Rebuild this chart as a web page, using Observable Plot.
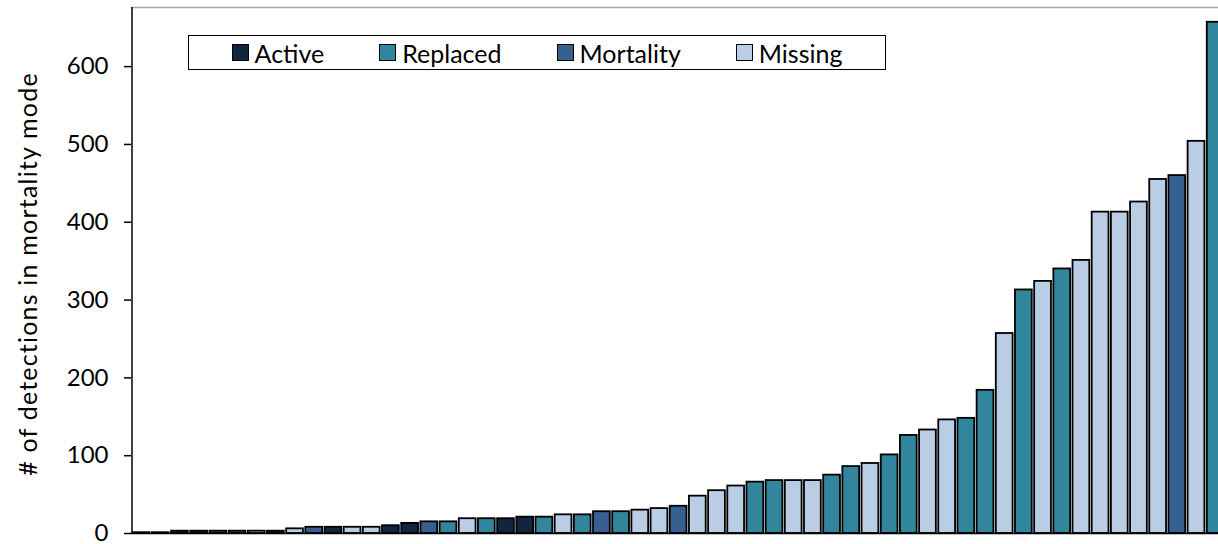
<!DOCTYPE html>
<html>
<head>
<meta charset="utf-8">
<script src="https://cdn.jsdelivr.net/npm/d3@7"></script>
<script src="https://cdn.jsdelivr.net/npm/@observablehq/plot@0.6"></script>
<style>
  html, body { margin: 0; padding: 0; background: #fff; }
  #wrap { position: relative; width: 1218px; height: 544px; overflow: hidden; font-family: Lato, "Open Sans", sans-serif; }
  #legend { position: absolute; left: 188px; top: 35px; width: 696px; height: 33px; border: 1.5px solid #000; background: #fff;
            display: flex; align-items: center; justify-content: center; gap: 55px; font-size: 25px; color: #000; }
  .item { display: flex; align-items: center; }
  .sw { width: 15px; height: 15px; border: 1.5px solid #000; margin-right: 6px; }
  #ytitle { position: absolute; left: 27px; top: 274px; transform: translate(-50%, -50%) rotate(-90deg); white-space: nowrap; font-size: 25px; letter-spacing: 1.2px; color: #000; }
</style>
</head>
<body>
<div id="wrap"></div>
<script>
const categories = ["Active", "Replaced", "Mortality", "Missing"];
const colors = ["#10253F", "#31859C", "#366092", "#B9CDE5"];
const yTicks = [0, 100, 200, 300, 400, 500, 600];
const yTitle = "# of detections in mortality mode";

// one value per transmitter, sorted ascending, with its status
const values = [1, 1, 3, 3, 3, 3, 3, 3, 6, 8,
                8, 8, 8, 10, 13, 15, 15, 19, 19, 19,
                21, 21, 24, 24, 28, 28, 30, 32, 35, 48,
                55, 61, 66, 68, 68, 68, 75, 86, 90, 101,
                126, 133, 146, 148, 184, 257, 313, 324, 340, 351,
                413, 413, 426, 455, 460, 504, 657];
const status = ["Active", "Active", "Active", "Active", "Mortality", "Mortality", "Missing", "Active", "Missing", "Mortality",
                "Active", "Missing", "Missing", "Active", "Active", "Mortality", "Replaced", "Missing", "Replaced", "Active",
                "Active", "Replaced", "Missing", "Replaced", "Mortality", "Replaced", "Missing", "Missing", "Mortality", "Missing",
                "Missing", "Missing", "Replaced", "Replaced", "Missing", "Missing", "Replaced", "Replaced", "Missing", "Replaced",
                "Replaced", "Missing", "Missing", "Replaced", "Replaced", "Missing", "Replaced", "Missing", "Replaced", "Missing",
                "Missing", "Missing", "Missing", "Missing", "Mortality", "Missing", "Replaced"];

const data = values.map((v, i) => ({i, value: v, status: status[i]}));
const n = data.length;
const step = 19.18;
const left = 131.5;

const chart = Plot.plot({
  width: 1218,
  height: 544,
  marginLeft: 131,
  marginTop: 7,
  marginBottom: 11,
  marginRight: 0,
  style: {fontFamily: "Lato, 'Open Sans', sans-serif", background: "#fff", overflow: "hidden"},
  x: {domain: [0, n], range: [left, left + n * step], axis: null},
  y: {domain: [0, 676], axis: null},
  color: {domain: categories, range: colors},
  marks: [
    Plot.ruleY([676], {stroke: "#a6a6a6", strokeWidth: 1.5}),
    Plot.rectY(data, {x1: "i", x2: d => d.i + 1, y: "value", fill: "status",
                      stroke: "#000", strokeWidth: 1.8, insetLeft: 1.2, insetRight: 1.2}),
    Plot.ruleY([0], {stroke: "#000", strokeWidth: 1.5}),
    Plot.ruleX([0], {stroke: "#000", strokeWidth: 1.5}),
    Plot.axisY({ticks: yTicks, tickSize: 7, tickPadding: 16, fontSize: 24, label: null,
                tickFormat: d => String(d), stroke: "#000", strokeWidth: 1.5, color: "#000"})
  ]
});

const wrap = document.getElementById("wrap");
wrap.appendChild(chart);

const legend = document.createElement("div");
legend.id = "legend";
categories.forEach((c, k) => {
  const it = document.createElement("div");
  it.className = "item";
  const sw = document.createElement("div");
  sw.className = "sw";
  sw.style.background = colors[k];
  const t = document.createElement("span");
  t.textContent = c;
  it.appendChild(sw); it.appendChild(t);
  legend.appendChild(it);
});
wrap.appendChild(legend);

const yt = document.createElement("div");
yt.id = "ytitle";
yt.textContent = yTitle;
wrap.appendChild(yt);
</script>
</body>
</html>
